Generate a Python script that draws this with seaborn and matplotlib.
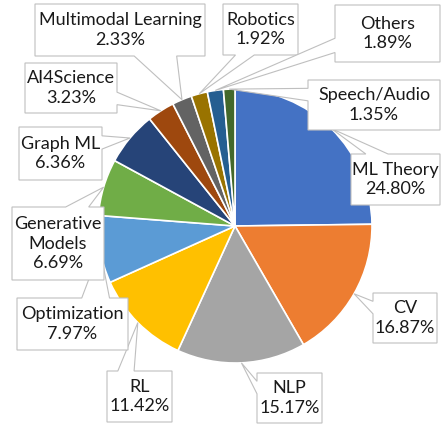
import numpy as np
import matplotlib
matplotlib.use("Agg")
import matplotlib.pyplot as plt
from matplotlib.patches import Polygon
import seaborn as sns

# data
categories = ["ML Theory", "CV", "NLP", "RL", "Optimization", "Generative Models",
              "Graph ML", "AI4Science", "Multimodal Learning", "Robotics", "Others",
              "Speech/Audio"]
shares = [24.80, 16.87, 15.17, 11.42, 7.97, 6.69, 6.36, 3.23, 2.33, 1.92, 1.89, 1.35]
slice_colors = ["#4472C4", "#ED7D31", "#A5A5A5", "#FFC000", "#5B9BD5", "#70AD47",
                "#264478", "#9E480E", "#636363", "#997300", "#255E91", "#43682B"]

# callout boxes, image pixels (left, top, right, bottom)
label_boxes = [(351, 154, 440, 205), (373, 293, 437, 343), (257, 373, 322, 423),
               (107, 371, 172, 422), (17, 298, 128, 350), (12, 207, 104, 280),
               (19, 127, 102, 180), (25, 63, 117, 113), (35, 4, 205, 56),
               (223, 4, 298, 55), (335, 5, 440, 62), (308, 80, 440, 130)]

W, H = 442, 425
CX, CY, R = 235, H - 226, 137

sns.set_theme(style="white")
plt.rcParams['font.family'] = ['Lato', 'DejaVu Sans']

fig = plt.figure(figsize=(W / 100, H / 100), dpi=100)
ax = fig.add_axes([0, 0, 1, 1])

palette = sns.color_palette(slice_colors)
wedges, _ = ax.pie(shares, colors=palette, startangle=90, counterclock=False,
                   center=(CX, CY), radius=R,
                   wedgeprops=dict(edgecolor="white", linewidth=1.2))


def callout(ax, box, tip, text):
    l, t, r, b = box
    t, b = H - t, H - b
    w, h = r - l, t - b
    hc, vc = (l + r) / 2, (b + t) / 2
    dx, dy = tip[0] - hc, tip[1] - vc
    dq = dx * h / w
    pts = [(l, b)]
    if abs(dy) > abs(dq):
        fr = (7 / 12, 10 / 12) if dx > 0 else (2 / 12, 5 / 12)
        x1, x2 = l + w * fr[0], l + w * fr[1]
        if dy < 0:
            pts += [(x1, b), tip, (x2, b), (r, b), (r, t), (l, t)]
        else:
            pts += [(r, b), (r, t), (x2, t), tip, (x1, t), (l, t)]
    else:
        fr = (2 / 12, 5 / 12) if dy > 0 else (7 / 12, 10 / 12)
        y1, y2 = t - h * fr[0], t - h * fr[1]
        if dx > 0:
            pts += [(r, b), (r, y2), tip, (r, y1), (r, t), (l, t)]
        else:
            pts += [(r, b), (r, t), (l, t), (l, y1), tip, (l, y2)]
    ax.add_patch(Polygon(pts, closed=True, facecolor="white", edgecolor="#bfbfbf",
                         linewidth=0.8, zorder=3))
    ax.text(hc, vc, text, ha="center", va="center", multialignment="center",
            fontsize=13, color="#1a1a1a", linespacing=1.3, zorder=4)


for wdg, name, val, box in zip(wedges, categories, shares, label_boxes):
    mid = np.deg2rad((wdg.theta1 + wdg.theta2) / 2)
    tip = (CX + R * np.cos(mid), CY + R * np.sin(mid))
    name = name.replace("Generative ", "Generative\n")
    callout(ax, box, tip, f"{name}\n{val:.2f}%")

ax.set_xlim(0, W)
ax.set_ylim(0, H)
ax.set_aspect("equal")
ax.axis("off")

fig.savefig("out.png", dpi=100)
